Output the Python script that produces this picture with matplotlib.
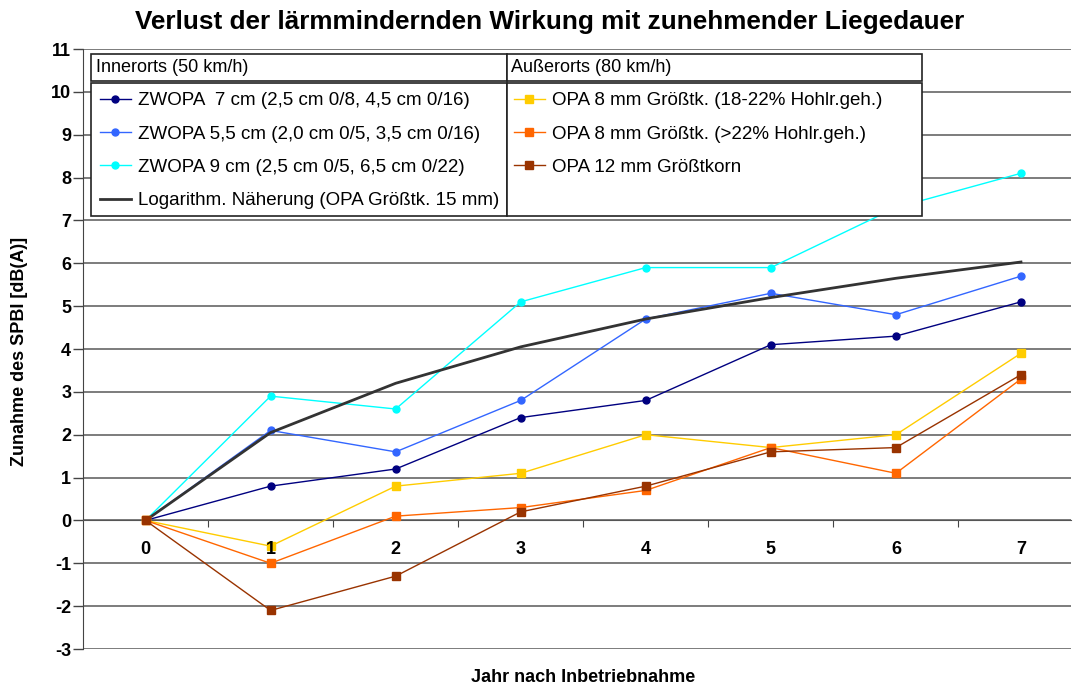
import matplotlib
matplotlib.use("Agg")
import matplotlib.pyplot as plt
from matplotlib.patches import Rectangle

plt.rcParams['font.family'] = ['Liberation Sans', 'DejaVu Sans']
plt.rcParams['axes.unicode_minus'] = False

years = [0, 1, 2, 3, 4, 5, 6, 7]
zwopa7 = [0, 0.8, 1.2, 2.4, 2.8, 4.1, 4.3, 5.1]
zwopa55 = [0, 2.1, 1.6, 2.8, 4.7, 5.3, 4.8, 5.7]
zwopa9 = [0, 2.9, 2.6, 5.1, 5.9, 5.9, 7.3, 8.1]
log_fit = [0, 2.05, 3.2, 4.05, 4.7, 5.2, 5.65, 6.03]
opa8_a = [0, -0.6, 0.8, 1.1, 2.0, 1.7, 2.0, 3.9]
opa8_b = [0, -1.0, 0.1, 0.3, 0.7, 1.7, 1.1, 3.3]
opa12 = [0, -2.1, -1.3, 0.2, 0.8, 1.6, 1.7, 3.4]
y_ticks = list(range(-3, 12))

labels_inner = ["ZWOPA  7 cm (2,5 cm 0/8, 4,5 cm 0/16)",
                "ZWOPA 5,5 cm (2,0 cm 0/5, 3,5 cm 0/16)",
                "ZWOPA 9 cm (2,5 cm 0/5, 6,5 cm 0/22)",
                "Logarithm. Näherung (OPA Größtk. 15 mm)"]
labels_outer = ["OPA 8 mm Größtk. (18-22% Hohlr.geh.)",
                "OPA 8 mm Größtk. (>22% Hohlr.geh.)",
                "OPA 12 mm Größtkorn"]
header_inner = "Innerorts (50 km/h)"
header_outer = "Außerorts (80 km/h)"
title = "Verlust der lärmmindernden Wirkung mit zunehmender Liegedauer"
xlabel = "Jahr nach Inbetriebnahme"
ylabel = "Zunahme des SPBI [dB(A)]"

W, H = 1073, 688
fig = plt.figure(figsize=(W/100, H/100), dpi=100)
L, R, T, B = 83, 1071, 49, 649
ax = fig.add_axes([L/W, 1-B/H, (R-L)/W, (B-T)/H])

ax.set_xlim(-0.5, 7.4)
ax.set_ylim(-3, 11)

inner_series = [(zwopa7, '#000080', 'o', 5),
                (zwopa55, '#3366FF', 'o', 5),
                (zwopa9, '#00FFFF', 'o', 5)]
outer_series = [(opa8_a, '#FFCC00', 's', 6),
                (opa8_b, '#FF6600', 's', 6),
                (opa12, '#993300', 's', 6)]

h_inner = []
for d, c, m, ms in inner_series:
    h, = ax.plot(years, d, color=c, marker=m, ms=ms, lw=1.0, zorder=3)
    h_inner.append(h)
h, = ax.plot(years, log_fit, color='#333333', lw=2, zorder=3)
h_inner.append(h)
h_outer = []
for d, c, m, ms in outer_series:
    h, = ax.plot(years, d, color=c, marker=m, ms=ms, lw=1.0, zorder=3)
    h_outer.append(h)

# grid
ax.set_yticks(y_ticks)
ax.set_yticklabels([str(v) for v in y_ticks])
ax.yaxis.grid(True, color='#666666', lw=1.2)
ax.set_axisbelow(True)
for s in ['top', 'right']:
    ax.spines[s].set_visible(False)
ax.spines['bottom'].set_position(('data', 0))
ax.spines['bottom'].set_color('#555555')
ax.spines['left'].set_color('#444444')
ax.tick_params(axis='y', direction='out', length=7, width=1, color='#444444',
               pad=1.5, labelsize=13)
for t in ax.get_yticklabels():
    t.set_fontweight('bold')

# x ticks: marks between categories, labels at categories
ax.set_xticks([i + 0.5 for i in range(7)])
ax.set_xticklabels([])
ax.tick_params(axis='x', direction='out', length=5, color='#444444')
for x in years:
    ax.text(x, -0.67, str(x), ha='center', va='center', fontsize=13,
            fontweight='bold', transform=ax.transData)

fig.text(550/W, 1-22/H, title, ha='center', va='center', fontsize=18.8, fontweight='bold')
fig.text(583/W, 1-678/H, xlabel, ha='center', va='center', fontsize=13, fontweight='bold')
fig.text(20/W, 1-351/H, ylabel, ha='center', va='center', fontsize=13,
         fontweight='bold', rotation=90)

# legend box
def afx(px):
    return (px - L) / (R - L)

def afy(py):
    return (B - py) / (B - T)

box_kw = dict(transform=ax.transAxes, facecolor='white', edgecolor='#222222',
              lw=1.2, zorder=10, clip_on=False)
ax.add_patch(Rectangle((afx(91), afy(81)), afx(507)-afx(91), afy(54)-afy(81), **box_kw))
ax.add_patch(Rectangle((afx(507), afy(81)), afx(922)-afx(507), afy(54)-afy(81), **box_kw))
ax.add_patch(Rectangle((afx(91), afy(216)), afx(507)-afx(91), afy(83)-afy(216), **box_kw))
ax.add_patch(Rectangle((afx(507), afy(216)), afx(922)-afx(507), afy(83)-afy(216), **box_kw))
ax.text(afx(96), afy(68), header_inner, transform=ax.transAxes, fontsize=13,
        va='center', ha='left', zorder=11)
ax.text(afx(511), afy(68), header_outer, transform=ax.transAxes, fontsize=13,
        va='center', ha='left', zorder=11)

leg_kw = dict(loc='upper left', frameon=False, fontsize=13.5, handlelength=1.65,
              handletextpad=0.4, labelspacing=0.87, borderaxespad=0, borderpad=0)
leg1 = ax.legend(h_inner, labels_inner, bbox_to_anchor=(afx(100), afy(92)), **leg_kw)
leg1.set_zorder(12)
ax.add_artist(leg1)
leg2 = ax.legend(h_outer, labels_outer, bbox_to_anchor=(afx(514), afy(92)), **leg_kw)
leg2.set_zorder(12)

fig.savefig('out.png', dpi=100)
